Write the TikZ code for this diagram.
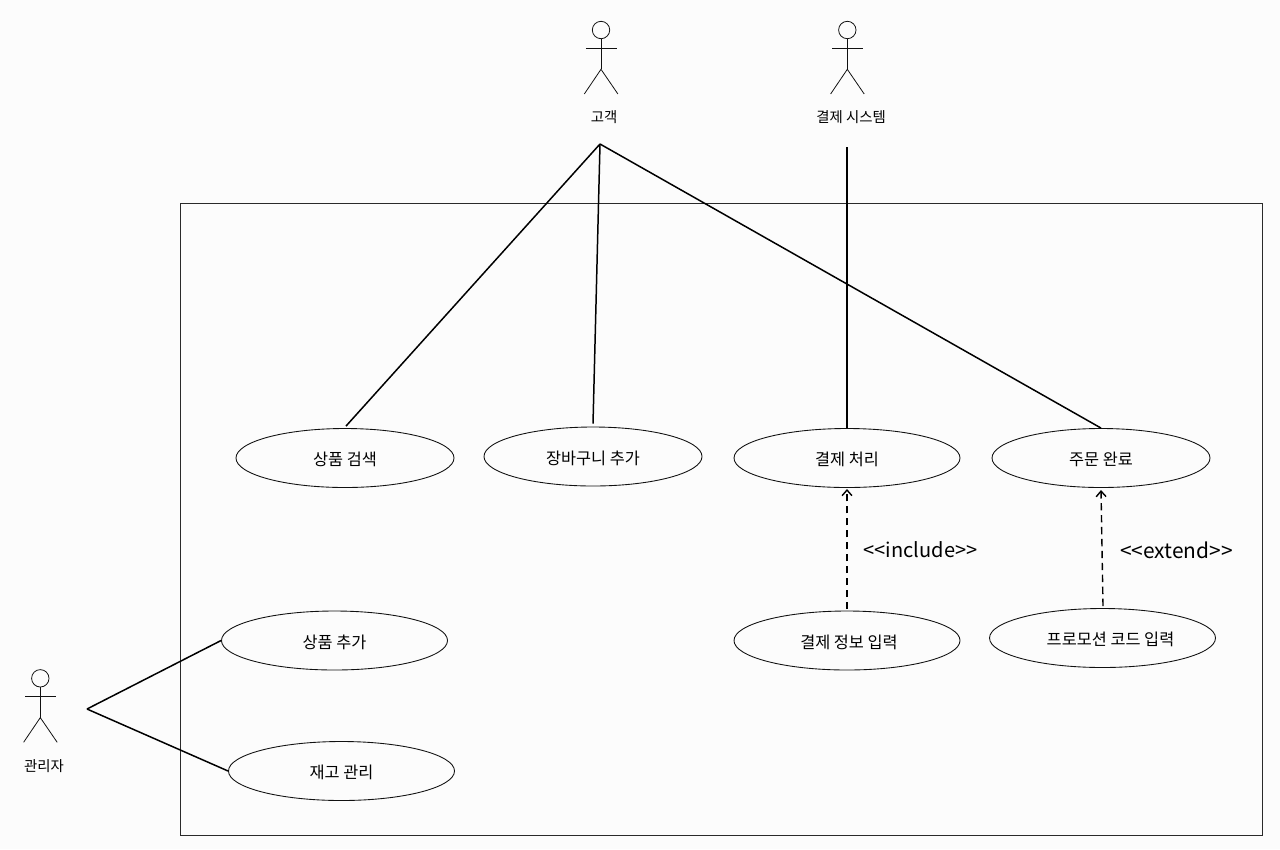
\documentclass[tikz,border=0pt]{standalone}
\usepackage{fontspec}
\setmainfont{Noto Sans CJK KR}
\usetikzlibrary{shapes.geometric,arrows.meta}
\definecolor{bgc}{HTML}{FCFCFC}
\definecolor{linec}{HTML}{111111}
\definecolor{framec}{HTML}{2A2A2A}
\newcommand{\pxu}{*0.02cm}
\newcommand{\uc}[2][0pt]{\hspace*{#1}\raisebox{0pt}[1.05em][0.1em]{#2}}
\tikzset{
  usecase/.style={draw=linec,line width=0.5pt,ellipse,inner sep=0pt,minimum width=218\pxu,minimum height=59\pxu,font=\fontsize{9.3pt}{11pt}\selectfont,text=black},
  assoc/.style={draw=black,line width=0.85pt},
  depend/.style={draw=black,line width=0.8pt,dash pattern=on 4.2pt off 2.6pt,-{Straight Barb[length=3.2pt,width=5.6pt,line width=0.8pt]}},
  actorline/.style={draw=linec,line width=0.45pt},
  actorlabel/.style={font=\fontsize{8.2pt}{10pt}\selectfont,text=black,inner sep=0pt},
  deplabel/.style={font=\fontsize{11.4pt}{13pt}\selectfont,text=black,inner sep=0pt},
  frame/.style={draw=framec,line width=0.5pt},
}
\newcommand{\stickman}[3]{%
  \node[draw=linec,line width=0.45pt,circle,minimum size=17.4*0.02cm,inner sep=0pt] (#1head) at (#2,#3) {};
  \coordinate (#1hip) at (#2,#3+39.3);
  \coordinate (#1al) at (#2-15.2,#3+18.2);
  \coordinate (#1ar) at (#2+15.6,#3+18.2);
  \coordinate (#1fl) at (#2-16.7,#3+64);
  \coordinate (#1fr) at (#2+16.9,#3+64);
  \draw[actorline] (#1head.south) -- (#1hip);
  \draw[actorline] (#1al) -- (#1ar);
  \draw[actorline] (#1fl) -- (#1hip) -- (#1fr);
}
\begin{document}
\begin{tikzpicture}[x=0.02cm,y=-0.02cm]
\fill[bgc] (0,0) rectangle (1280,849);
\useasboundingbox (0,0) rectangle (1280,849);
\draw[frame] (180,203) rectangle (1262,835);

\stickman{cust}{601}{30}
\stickman{pay}{847.3}{30}
\stickman{admin}{40.3}{678.3}
\node[actorlabel] (custl) at (604,117) {고객};
\node[actorlabel] (payl) at (851,117) {결제 시스템};
\node[actorlabel] (adminl) at (44,766) {관리자};

\node[usecase] (search) at (345,458) {\uc{상품 검색}};
\node[usecase] (cart) at (593,456.5) {\uc{장바구니 추가}};
\node[usecase,minimum width=226*0.02cm] (process) at (847,458) {\uc{결제 처리}};
\node[usecase] (order) at (1101,458) {\uc{주문 완료}};
\node[usecase,minimum width=226*0.02cm] (add) at (334.5,640.5) {\uc{상품 추가}};
\node[usecase,minimum width=226*0.02cm] (info) at (847,640.5) {\uc[0.08cm]{결제 정보 입력}};
\node[usecase,minimum width=226*0.02cm] (promo) at (1102.5,638) {\uc[0.32cm]{프로모션 코드 입력}};
\node[usecase,minimum width=226*0.02cm] (stock) at (341.5,771) {\uc{재고 관리}};

\coordinate (custhub) at (600,144);
\coordinate (payhub) at (847,147);
\coordinate (adminhub) at (87,709);
\draw[assoc] (custhub) -- ([shift={(0.02cm,0.04cm)}]search.north);
\draw[assoc] (custhub) -- ([yshift=0.06cm]cart.north);
\draw[assoc] (custhub) -- (order.north);
\draw[assoc] (payhub) -- (process.north);
\draw[assoc] (adminhub) -- (add.west);
\draw[assoc] (adminhub) -- (stock.west);

\coordinate (incs) at (847,609);
\coordinate (ince) at (847,489);
\coordinate (exts) at (1103,606);
\coordinate (exte) at (1101,490);
\draw[depend] (incs) -- (ince);
\draw[depend] (exts) -- (exte);
\node[deplabel] (incl) at (920.5,550) {<{}<include>{}>};
\node[deplabel,font=\fontsize{11.9pt}{13pt}\selectfont] (extl) at (1176.5,550) {<{}<extend>{}>};
\end{tikzpicture}
\end{document}
